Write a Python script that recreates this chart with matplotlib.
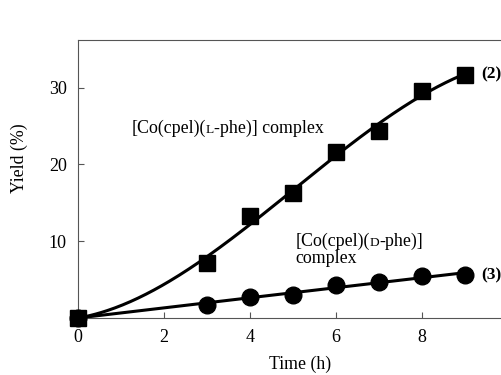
import numpy as np
import matplotlib
matplotlib.use("Agg")
import matplotlib.pyplot as plt
import matplotlib.transforms as mtransforms

plt.rcParams['font.family'] = ['Liberation Serif', 'DejaVu Serif']

time_h = [0, 3, 4, 5, 6, 7, 8, 9]
yield_l = [0, 7.2, 13.3, 16.3, 21.6, 24.3, 29.6, 31.7]
yield_d = [0, 1.7, 2.7, 3.0, 4.3, 4.7, 5.5, 5.6]
xticks = [0, 2, 4, 6, 8]
yticks = [10, 20, 30]

fig = plt.figure(figsize=(5.01, 3.75), dpi=100)
ax = fig.add_axes([78/501, 57/375, 430/501, 278/375])
ax.set_xlim(0, 10)
ax.set_ylim(0, 36.2)

def fit_through_origin(x, y, deg):
    x = np.asarray(x, float); y = np.asarray(y, float)
    A = np.vstack([x**k for k in range(1, deg + 1)]).T
    coef, *_ = np.linalg.lstsq(A, y, rcond=None)
    xs = np.linspace(0, max(x), 200)
    ys = sum(c * xs**(k + 1) for k, c in enumerate(coef))
    return xs, ys

xs, ys = fit_through_origin(time_h, yield_l, 3)
ax.plot(xs, ys, color='black', lw=2.2, zorder=2)
xs2, ys2 = fit_through_origin(time_h, yield_d, 2)
ax.plot(xs2, ys2, color='black', lw=2.2, zorder=2)

ax.plot(time_h, yield_d, 'o', color='black', ms=12, zorder=3, clip_on=False)
ax.plot(time_h, yield_l, 's', color='black', ms=11.5, zorder=4, clip_on=False)

ax.set_xticks(xticks)
ax.set_yticks(yticks)
ax.tick_params(direction='in', length=4, width=0.8, labelsize=13, color='#555555', pad=8)
for s in ['left', 'bottom', 'top', 'right']:
    ax.spines[s].set_color('#555555')
    ax.spines[s].set_linewidth(0.8)

ax.set_xlabel('Time (h)', fontsize=12.8)
ax.xaxis.set_label_coords(0.516, -0.135)
ax.set_ylabel('Yield (%)', fontsize=12.8)
ax.yaxis.set_label_coords(-0.117, 0.576)

fig.canvas.draw()
renderer = fig.canvas.get_renderer()

def rich_text(x, y, pieces, fs=12.9):
    trans = ax.transData
    offset = 0.0
    for txt, scale in pieces:
        t = ax.text(x, y, txt, fontsize=fs * scale, va='baseline', ha='left',
                    transform=mtransforms.offset_copy(trans, fig=fig, x=offset, y=0, units='dots'))
        w = t.get_window_extent(renderer).width
        offset += w

rich_text(1.25, 24.1, [('[Co(cpel)(', 1.0), ('L', 0.75), ('-phe)] complex', 1.0)])
rich_text(5.05, 9.4, [('[Co(cpel)(', 1.0), ('D', 0.75), ('-phe)]', 1.0)])
ax.text(5.05, 7.15, 'complex', fontsize=12.9, va='baseline', ha='left')

ax.text(9.37, 31.7, '(2)', fontsize=12.5, fontweight='bold', va='center', ha='left')
ax.text(9.37, 5.6, '(3)', fontsize=12.5, fontweight='bold', va='center', ha='left')

fig.savefig('out.png', dpi=100)
